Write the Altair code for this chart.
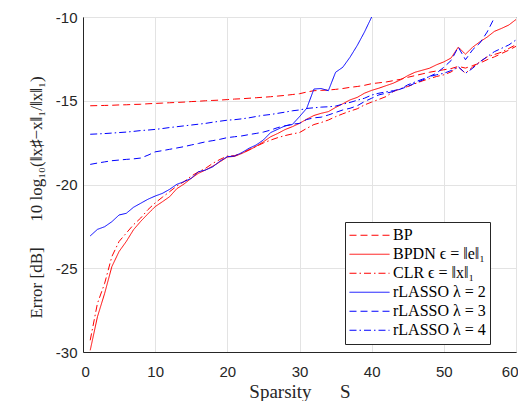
import altair as alt
import pandas as pd

S = list(range(1, 61))

bp = [-15.30, -15.29, -15.28, -15.27, -15.25, -15.24, -15.22, -15.21, -15.18, -15.16,
      -15.14, -15.12, -15.10, -15.08, -15.05, -15.03, -15.00, -14.98, -14.96, -14.93,
      -14.90, -14.88, -14.85, -14.82, -14.79, -14.76, -14.72, -14.68, -14.63, -14.58,
      -14.48, -14.40, -14.38, -14.36, -14.32, -14.27, -14.20, -14.15, -14.08, -13.98,
      -13.93, -13.88, -13.80, -13.72, -13.60, -13.50, -13.40, -13.30, -13.22, -13.15,
      -13.08, -12.95, -13.05, -12.90, -12.75, -12.55, -12.38, -12.18, -11.98, -11.75]

bpdn = [-29.90, -27.90, -26.50, -24.90, -24.00, -23.40, -22.70, -22.20, -21.75, -21.32,
        -21.03, -20.73, -20.25, -19.97, -19.63, -19.33, -19.13, -18.90, -18.64, -18.36,
        -18.32, -18.15, -17.95, -17.72, -17.45, -17.15, -16.95, -16.72, -16.55, -16.35,
        -16.10, -15.88, -15.75, -15.65, -15.40, -15.18, -14.95, -14.80, -14.55, -14.38,
        -14.25, -14.10, -13.95, -13.75, -13.50, -13.30, -13.18, -13.06, -12.85, -12.68,
        -12.45, -11.80, -12.22, -11.80, -11.48, -11.20, -10.86, -10.68, -10.48, -10.15]

clr = [-29.30, -27.10, -25.90, -24.30, -23.40, -22.90, -22.40, -22.00, -21.50, -21.10,
       -20.76, -20.43, -20.09, -19.83, -19.50, -19.24, -19.03, -18.73, -18.50, -18.30,
       -18.28, -18.12, -17.92, -17.72, -17.52, -17.35, -17.20, -17.08, -16.98, -16.90,
       -16.65, -16.42, -16.30, -16.15, -15.95, -15.78, -15.62, -15.48, -15.25, -15.08,
       -14.92, -14.75, -14.45, -14.28, -14.15, -13.98, -13.82, -13.68, -13.55, -13.45,
       -13.28, -12.98, -13.36, -12.98, -12.68, -12.38, -12.24, -12.10, -11.88, -11.65]

S_l2 = list(range(1, 41))
rl2 = [-23.07, -22.68, -22.52, -22.22, -21.82, -21.72, -21.36, -21.12, -20.88, -20.69,
       -20.53, -20.29, -19.99, -19.83, -19.63, -19.24, -19.13, -18.94, -18.60, -18.34,
       -18.30, -18.10, -17.84, -17.64, -17.34, -16.90, -16.70, -16.50, -16.42, -15.95,
       -15.45, -14.30, -14.27, -14.40, -13.30, -13.00, -12.40, -11.70, -10.90, -10.00]

S_l3 = list(range(1, 59))
rl3 = [-18.80, -18.72, -18.65, -18.58, -18.54, -18.50, -18.47, -18.42, -18.25, -18.05,
       -17.98, -17.90, -17.82, -17.74, -17.64, -17.55, -17.45, -17.38, -17.30, -17.20,
       -17.15, -17.10, -17.02, -16.95, -16.87, -16.75, -16.60, -16.50, -16.40, -16.35,
       -16.12, -16.02, -15.98, -15.85, -15.70, -15.55, -15.45, -15.30, -15.05, -14.85,
       -14.65, -14.55, -14.45, -14.30, -14.15, -13.95, -13.78, -13.55, -13.35, -13.00,
       -12.60, -11.80, -12.55, -11.95, -11.55, -10.90, -10.05, -9.30]

rl4 = [-17.00, -16.98, -16.96, -16.93, -16.90, -16.87, -16.83, -16.78, -16.75, -16.71,
       -16.66, -16.60, -16.55, -16.50, -16.45, -16.40, -16.35, -16.28, -16.22, -16.16,
       -16.13, -16.08, -16.02, -15.94, -15.87, -15.82, -15.75, -15.68, -15.60, -15.55,
       -15.46, -15.42, -15.38, -15.36, -15.32, -15.20, -15.10, -14.97, -14.85, -14.66,
       -14.55, -14.47, -14.40, -14.30, -14.05, -13.88, -13.72, -13.56, -13.45, -13.36,
       -13.20, -12.97, -13.36, -13.06, -12.67, -12.37, -12.07, -11.87, -11.67, -11.37]

names = ["BP", "BPDN ϵ = ‖e‖₁", "CLR ϵ = ‖x‖₁",
         "rLASSO λ = 2", "rLASSO λ = 3", "rLASSO λ = 4"]
colors = ["#ff0000", "#ff0000", "#ff0000", "#0000ff", "#0000ff", "#0000ff"]
dashes = [[7, 4], [1, 0], [7, 3, 1.5, 3], [1, 0], [7, 4], [7, 3, 1.5, 3]]

x_ticks = [0, 10, 20, 30, 40, 50, 60]
y_ticks = [-30, -25, -20, -15, -10]

series = [(names[0], S, bp), (names[1], S, bpdn), (names[2], S, clr),
          (names[3], S_l2, rl2), (names[4], S_l3, rl3), (names[5], S, rl4)]
rows = []
for name, xs, ys in series:
    for s, v in zip(xs, ys):
        rows.append({"method": name, "S": s, "err": v})
df = pd.DataFrame(rows)

serif = "Liberation Serif, DejaVu Serif, serif"
leg = alt.Legend(title=None)

chart = alt.Chart(df).mark_line(strokeWidth=1, clip=True).encode(
    x=alt.X("S:Q",
            scale=alt.Scale(domain=[0, 60], nice=False, zero=False),
            axis=alt.Axis(values=x_ticks, title="Sparsity\u2003\u2002S",
                          titleFontSize=19,
                          labelFlush=True, labelFlushOffset=2,
                          labelPadding=12, titlePadding=3)),
    y=alt.Y("err:Q",
            scale=alt.Scale(domain=[-30, -10], nice=False, zero=False),
            axis=alt.Axis(values=y_ticks,
                          labelExpr="'' + datum.value",
                          title="Error [dB]\u2003\u200210 log₁₀(‖x♯−x‖₁/‖x‖₁)",
                          titleFontSize=17, labelFlush=False,
                          labelPadding=6, titlePadding=10, titleY=180)),
    color=alt.Color("method:N", scale=alt.Scale(domain=names, range=colors),
                    legend=leg),
    strokeDash=alt.StrokeDash("method:N", scale=alt.Scale(domain=names, range=dashes),
                              legend=leg),
).properties(
    width=433, height=335,
    autosize=alt.AutoSizeParams(type="none"),
    padding={"left": 75, "top": 9, "right": 2, "bottom": 49},
).configure_view(
    stroke="#262626", strokeWidth=1
).configure_axis(
    labelFont="Liberation Sans", labelFontSize=15, labelColor="#262626",
    titleFont=serif, titleFontWeight="normal",
    titleColor="#262626", gridColor="#e3e3e3", gridWidth=1,
    domainColor="#262626", tickSize=0
).configure_legend(
    orient="none", legendX=262, legendY=205,
    fillColor="white", strokeColor="#262626", padding=4, cornerRadius=0,
    symbolType="stroke", symbolSize=1600, clipHeight=18.5, rowPadding=0,
    symbolStrokeWidth=1, labelFont=serif, labelFontSize=16,
    labelColor="black", labelOffset=3
)

chart.save("out.html", embed_options={"renderer": "svg", "actions": False})
